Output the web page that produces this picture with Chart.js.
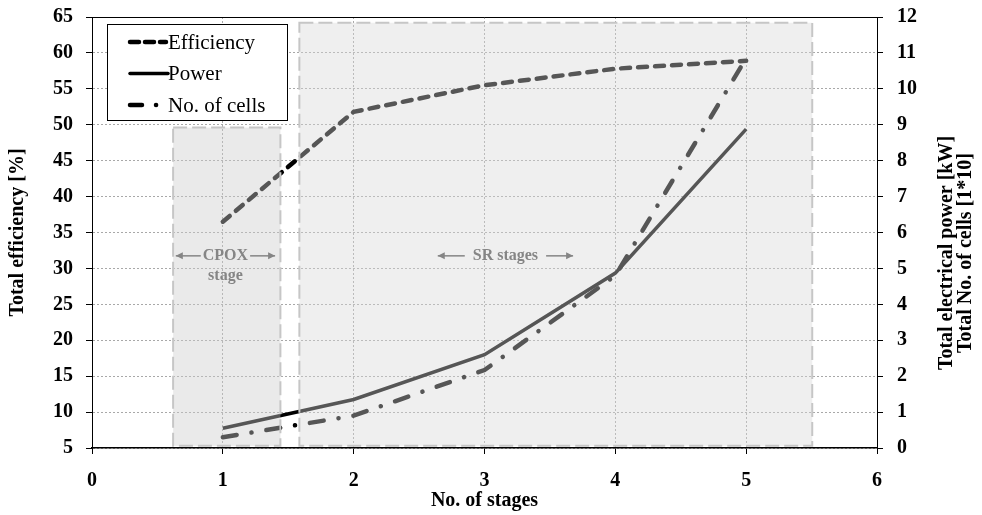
<!DOCTYPE html>
<html>
<head>
<meta charset="utf-8">
<script src="https://cdn.jsdelivr.net/npm/chart.js@4.4.1/dist/chart.umd.min.js"></script>
<style>
html,body{margin:0;padding:0;background:#fff;}
#wrap{width:982px;height:515px;}
</style>
</head>
<body>
<div id="wrap"><canvas id="c" width="982" height="515"></canvas></div>
<script>
// ---- data ----
const stages = [1, 2, 3, 4, 5];
const efficiency = [36.5, 51.8, 55.5, 57.8, 58.9];      // Total efficiency [%]
const power = [0.55, 1.35, 2.6, 4.87, 8.88];            // Total electrical power [kW]
const cells = [0.3, 0.9, 2.17, 4.8, 10.85];             // Total No. of cells [1*10]
const seriesNames = ['Efficiency', 'Power', 'No. of cells'];
const xTicks = [0, 1, 2, 3, 4, 5, 6];
const leftTicks = [5, 10, 15, 20, 25, 30, 35, 40, 45, 50, 55, 60, 65];
const rightTicks = [0, 1, 2, 3, 4, 5, 6, 7, 8, 9, 10, 11, 12];
const regionLabels = ['CPOX', 'stage', 'SR stages'];
const axisTitles = ['No. of stages', 'Total efficiency [%]', 'Total electrical power [kW]', 'Total No. of cells [1*10]'];

const SERIF = '"Liberation Serif", "Times New Roman", serif';
const dashEff = [9, 8];
const dashCells = [14, 15, 0.1, 15];

const pts = (ys) => stages.map((s, i) => ({x: s, y: ys[i]}));

const overlayPlugin = {
  id: 'overlay',
  afterDatasetsDraw(chart) {
    const {ctx, chartArea: ca} = chart;
    const xs = chart.scales.x, yl = chart.scales.y;
    ctx.save();
    // shaded regions (semi-transparent, lines beneath appear grey)
    const boxes = [
      {x0: 0.62, x1: 1.44, y0: 5.3, y1: 49.6, fill: 'rgba(205,205,205,0.42)'},
      {x0: 1.585, x1: 5.505, y0: 5.3, y1: 64.2, fill: 'rgba(215,215,215,0.40)'}
    ];
    boxes.forEach(b => {
      const L = xs.getPixelForValue(b.x0), R = xs.getPixelForValue(b.x1);
      const T = yl.getPixelForValue(b.y1), B = yl.getPixelForValue(b.y0);
      ctx.fillStyle = b.fill;
      ctx.fillRect(L, T, R - L, B - T);
      ctx.setLineDash([14, 5]);
      ctx.lineWidth = 2;
      ctx.strokeStyle = '#c6c6c6';
      ctx.strokeRect(L, T, R - L, B - T);
    });
    ctx.setLineDash([]);

    // region labels
    const grey = '#858585';
    ctx.fillStyle = grey;
    ctx.strokeStyle = grey;
    ctx.textAlign = 'center';
    ctx.textBaseline = 'middle';
    ctx.font = 'bold 16px ' + SERIF;
    function arrow(x1, x2, y) {
      ctx.lineWidth = 1.5;
      ctx.beginPath(); ctx.moveTo(x1, y); ctx.lineTo(x2, y); ctx.stroke();
      const d = x2 > x1 ? 1 : -1;
      ctx.beginPath();
      ctx.moveTo(x2, y);
      ctx.lineTo(x2 - d * 7, y - 3.5);
      ctx.lineTo(x2 - d * 7, y + 3.5);
      ctx.closePath(); ctx.fill();
    }
    function labelWithArrows(text, cx, cy, gap, len) {
      const w = ctx.measureText(text).width;
      ctx.fillText(text, cx, cy);
      arrow(cx - w / 2 - gap, cx - w / 2 - gap - len, cy);
      arrow(cx + w / 2 + gap, cx + w / 2 + gap + len, cy);
    }
    const cpX = xs.getPixelForValue(1.02);
    const cpY = yl.getPixelForValue(31.75);
    labelWithArrows(regionLabels[0], cpX, cpY, 2, 25);
    ctx.fillText(regionLabels[1], cpX, yl.getPixelForValue(28.9));
    labelWithArrows(regionLabels[2], xs.getPixelForValue(3.16), cpY, 8, 27);

    // frame top line
    ctx.strokeStyle = '#000';
    ctx.lineWidth = 1;
    ctx.beginPath(); ctx.moveTo(ca.left, ca.top + 0.5); ctx.lineTo(ca.right, ca.top + 0.5); ctx.stroke();

    // legend
    const lx = 107, ly = 24, lw = 180, lh = 96;
    ctx.fillStyle = '#fff';
    ctx.fillRect(lx, ly, lw, lh);
    ctx.strokeStyle = '#000';
    ctx.lineWidth = 1;
    ctx.strokeRect(lx + 0.5, ly + 0.5, lw, lh);
    const rows = [42, 73.5, 105];
    const widths = [4.5, 3.5, 4.5];
    chart.data.datasets.forEach((ds, i) => {
      const y = rows[i];
      ctx.save();
      ctx.strokeStyle = '#000';
      ctx.lineWidth = widths[i];
      ctx.lineCap = 'round';
      ctx.setLineDash(i === 2 ? [12, 14, 0.1, 20] : (i === 0 ? [9, 6] : []));
      ctx.beginPath(); ctx.moveTo(130, y); ctx.lineTo(i === 1 ? 168 : 166, y); ctx.stroke();
      ctx.restore();
      ctx.fillStyle = '#000';
      ctx.font = '21px ' + SERIF;
      ctx.textAlign = 'left';
      ctx.textBaseline = 'middle';
      ctx.fillText(ds.label, 168, y + 1);
    });

    // right axis title (two lines, reading bottom-to-top)
    ctx.save();
    ctx.translate(956, 253);
    ctx.rotate(-Math.PI / 2);
    ctx.fillStyle = '#000';
    ctx.font = 'bold 20px ' + SERIF;
    ctx.textAlign = 'center';
    ctx.textBaseline = 'middle';
    ctx.fillText(axisTitles[2], 0, -9.5);
    ctx.fillText(axisTitles[3], 0, 9.5);
    ctx.restore();
    ctx.restore();
  }
};

const gridDash = [2, 2];
const gridColor = '#a8a8a8';
const fitY = (w) => (s) => { s.width = w; s.paddingTop = 0; s.paddingBottom = 0; };
const chart = new Chart(document.getElementById('c'), {
  type: 'line',
  data: {
    datasets: [
      {label: seriesNames[0], data: pts(efficiency), yAxisID: 'y', borderColor: '#000',
       borderWidth: 4.5, borderDash: dashEff, borderCapStyle: 'round', pointRadius: 0, fill: false, tension: 0},
      {label: seriesNames[1], data: pts(power), yAxisID: 'y2', borderColor: '#000',
       borderWidth: 3.5, borderCapStyle: 'butt', pointRadius: 0, fill: false, tension: 0},
      {label: seriesNames[2], data: pts(cells), yAxisID: 'y2', borderColor: '#000',
       borderWidth: 4.5, borderDash: dashCells, borderCapStyle: 'round', pointRadius: 0, fill: false, tension: 0}
    ]
  },
  options: {
    responsive: false,
    animation: false,
    devicePixelRatio: 1,
    layout: {padding: {top: 17, left: 0, right: 0, bottom: 0}},
    plugins: {legend: {display: false}, tooltip: {enabled: false}},
    scales: {
      x: {
        type: 'linear', min: 0, max: 6,
        afterBuildTicks: (s) => { s.ticks = xTicks.map(v => ({value: v})); },
        afterFit: (s) => { s.height = 67; },
        grid: {
          color: (c) => (c.tick && (c.tick.value === 0 || c.tick.value === 6)) ? 'rgba(0,0,0,0)' : gridColor,
          lineWidth: 1, tickLength: 6, tickColor: '#000', tickWidth: 1, tickBorderDash: [0, 0]
        },
        border: {display: true, color: '#000', width: 1.5, dash: gridDash},
        ticks: {color: '#000', font: {family: SERIF, size: 20, weight: 'bold'}, padding: 15, maxRotation: 0},
        title: {display: true, text: axisTitles[0], color: '#000', font: {family: SERIF, size: 20, weight: 'bold'}, padding: {top: 0, bottom: 2}}
      },
      y: {
        type: 'linear', position: 'left', min: 5, max: 65,
        afterBuildTicks: (s) => { s.ticks = leftTicks.map(v => ({value: v})); },
        afterFit: fitY(92),
        grid: {color: gridColor, lineWidth: 1, tickLength: 6, tickColor: '#000', tickWidth: 1, tickBorderDash: [0, 0]},
        border: {display: true, color: '#000', width: 1, dash: gridDash},
        ticks: {color: '#000', font: {family: SERIF, size: 20, weight: 'bold'}, padding: 13},
        title: {display: true, text: axisTitles[1], color: '#000', font: {family: SERIF, size: 20, weight: 'bold'}, padding: {top: 6, bottom: 0}}
      },
      y2: {
        type: 'linear', position: 'right', min: 0, max: 12,
        afterBuildTicks: (s) => { s.ticks = rightTicks.map(v => ({value: v})); },
        afterFit: fitY(105),
        grid: {drawOnChartArea: false, tickLength: 6, tickColor: '#000', tickWidth: 1, tickBorderDash: [0, 0]},
        border: {display: true, color: '#000', width: 1},
        ticks: {color: '#000', font: {family: SERIF, size: 20, weight: 'bold'}, padding: 14}
      }
    }
  },
  plugins: [overlayPlugin]
});
</script>
</body>
</html>
